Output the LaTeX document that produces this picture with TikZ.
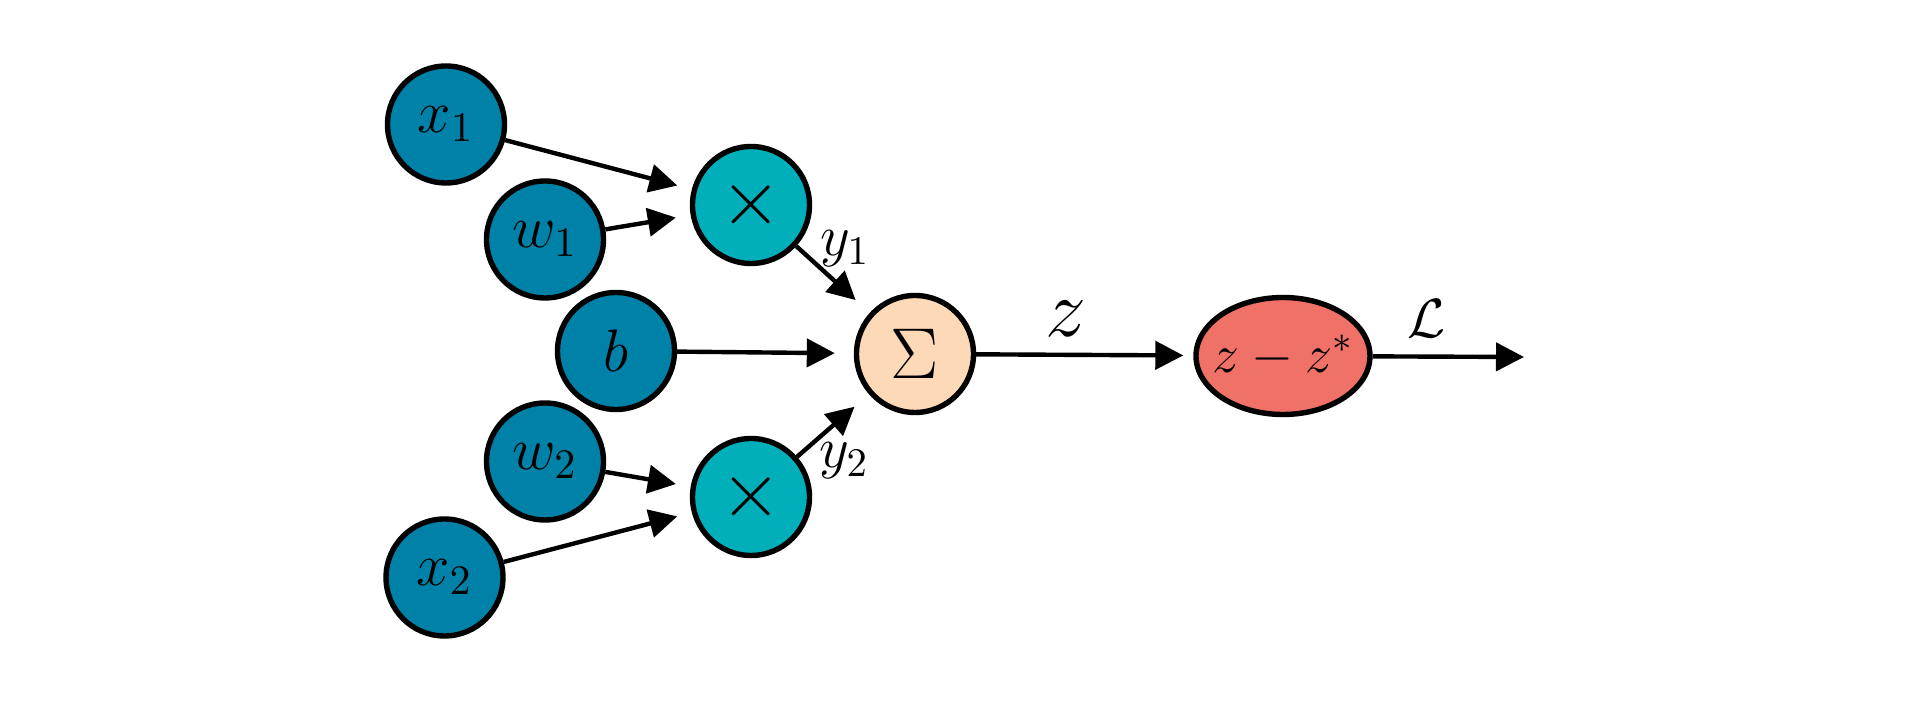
\documentclass[tikz,border=0pt]{standalone}
\usepackage{fix-cm}
\usetikzlibrary{arrows.meta,shapes.geometric}
\definecolor{cblue}{HTML}{0081A7}
\definecolor{cteal}{HTML}{00AFB9}
\definecolor{cpeach}{HTML}{FED9B7}
\definecolor{csalmon}{HTML}{F07167}
\begin{document}
\begin{tikzpicture}[x=0.25pt,y=-0.25pt,
  innode/.style={circle,draw=black,line width=1.35pt,fill=cblue,minimum size=29.25pt,inner sep=0pt,font=\fontsize{15}{18}\selectfont},
  mulnode/.style={innode,fill=cteal,font=\fontsize{19.7}{23}\selectfont},
  sumnode/.style={innode,fill=cpeach,font=\fontsize{18}{21}\selectfont},
  errnode/.style={ellipse,draw=black,line width=1.35pt,fill=csalmon,minimum width=43.5pt,minimum height=29.25pt,inner sep=0pt,font=\fontsize{13.5}{16}\selectfont},
  conn/.style={line width=1.1pt,-{Triangle[length=7pt,width=7pt]},shorten >=3.75pt},
  lbl/.style={inner sep=0pt}]
\useasboundingbox (0,0) rectangle (1920,703);
\node[innode] (x1) at (446,124.5) {$x_1$};
\node[innode] (w1) at (545,239.5) {$w_1$};
\node[innode] (b) at (616,351) {$b$};
\node[innode] (w2) at (545,461.5) {$w_2$};
\node[innode] (x2) at (444.5,577.5) {$x_2$};
\node[mulnode] (m1) at (751,205) {$\times$};
\node[mulnode] (m2) at (751,497) {$\times$};
\node[sumnode] (s) at (915,354) {$\Sigma$};
\node[errnode] (e) at (1283,356) {\makebox[0pt]{$z-z^*$}};
\coordinate (out) at (1524,357);
\draw[conn] (x1) -- (m1);
\draw[conn] (w1) -- (m1);
\draw[conn] (x2) -- (m2);
\draw[conn] (w2) -- (m2);
\draw[conn,shorten >=4.75pt] (m1) -- (s);
\draw[conn,shorten >=4.75pt] (b) -- (s);
\draw[conn,shorten >=4.75pt] (m2) -- (s);
\draw[conn,shorten >=2.5pt] (s) -- (e);
\draw[conn,shorten >=0pt] (e) -- (out);
\node[lbl,font=\fontsize{14.5}{17}\selectfont] (ly1) at (845,249) {$y_1$};
\node[lbl,font=\fontsize{14.5}{17}\selectfont] (ly2) at (844,461) {$y_2$};
\node[lbl,font=\fontsize{20.5}{24}\selectfont] (lz) at (1066,319) {$z$};
\node[lbl,font=\fontsize{13.8}{16}\selectfont] (lL) at (1427,319) {$\mathcal{L}$};
\end{tikzpicture}
\end{document}
